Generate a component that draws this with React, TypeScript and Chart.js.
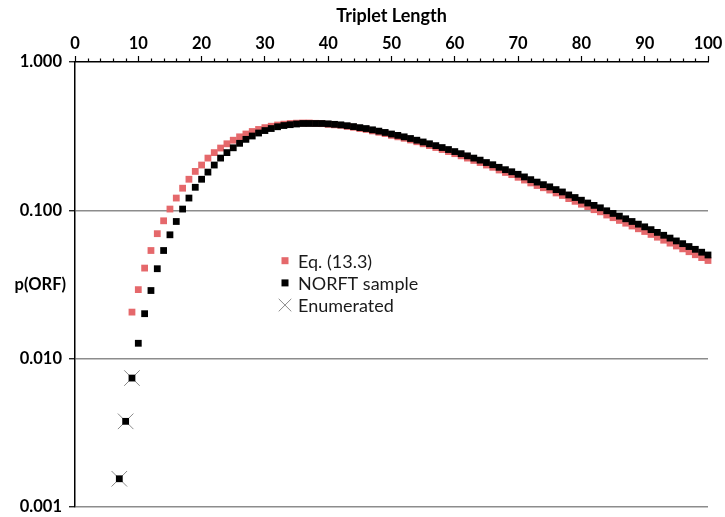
import React, { useEffect, useRef } from 'react';
import { Chart, registerables } from 'chart.js';

Chart.register(...registerables);

// ---- Data ----
const norftStart = 7;
const norftValues = [
  0.00155, 0.00378, 0.0074, 0.0127, 0.0201, 0.0288, 0.0404, 0.0536, 0.0684, 0.0841,
  0.102, 0.121, 0.143, 0.162, 0.181, 0.202, 0.225, 0.245,
  0.264, 0.283, 0.301, 0.317, 0.332, 0.345, 0.356, 0.366, 0.373, 0.378, 0.382, 0.385, 0.385, 0.385, 0.385, 0.383,
  0.380, 0.377, 0.372, 0.367, 0.361, 0.356, 0.349, 0.342, 0.335, 0.327, 0.320, 0.313, 0.305, 0.297, 0.289, 0.281, 0.273, 0.265, 0.257, 0.249,
  0.241, 0.233, 0.225, 0.218, 0.210, 0.203, 0.195, 0.188, 0.182, 0.175, 0.168, 0.161, 0.155, 0.149, 0.144, 0.138, 0.133, 0.127, 0.122, 0.117,
  0.112, 0.108, 0.104, 0.0993, 0.0953, 0.0914, 0.0877, 0.0841, 0.0807, 0.0774, 0.0741, 0.0710, 0.0679, 0.0650, 0.0622, 0.0596, 0.0570, 0.0546, 0.0522, 0.0500,
];

const eqStart = 9;
const eqValues = [
  0.0206, 0.0292, 0.0408, 0.0536, 0.0696, 0.0850, 0.102, 0.121, 0.141, 0.162, 0.183, 0.202, 0.225, 0.245,
  0.263, 0.281, 0.297, 0.313, 0.327, 0.340, 0.351, 0.361, 0.369, 0.376, 0.381, 0.385, 0.387, 0.388, 0.388, 0.386, 0.384, 0.380,
  0.377, 0.374, 0.368, 0.363, 0.356, 0.351, 0.343, 0.336, 0.329, 0.320, 0.313, 0.306, 0.298, 0.290, 0.281, 0.273, 0.265, 0.257, 0.249, 0.241,
  0.233, 0.225, 0.217, 0.210, 0.202, 0.195, 0.187, 0.180, 0.174, 0.167, 0.160, 0.153, 0.147, 0.142, 0.137, 0.131, 0.126, 0.120, 0.115, 0.110,
  0.106, 0.101, 0.0977, 0.0930, 0.0892, 0.0855, 0.0819, 0.0784, 0.0751, 0.0720, 0.0688, 0.0659, 0.0629, 0.0601, 0.0575, 0.0550, 0.0526, 0.0502, 0.0480, 0.0459,
];

const enumLengths = [7, 8, 9];
const enumValues = [0.00155, 0.00378, 0.0074];

const yTickValues = [0.001, 0.01, 0.1, 1];
const xMajorStep = 10;
const xMinorStep = 2;

const labels = ['Eq. (13.3)', 'NORFT sample', 'Enumerated'];

const RED = '#E5686B';
const GRID = '#8c8c8c';
const CROSS = '#8a8a8a';
const FONT = 'Lato';

const toPoints = (start: number, vals: number[]) => vals.map((v, i) => ({ x: start + i, y: v }));

const zeroPad = (s: any) => { s.paddingLeft = 0; s.paddingRight = 0; s.paddingTop = 0; s.paddingBottom = 0; };

const minorTicksPlugin = {
  id: 'minorTicks',
  afterDraw(chart: any) {
    const { ctx, chartArea } = chart;
    const xs = chart.scales.x;
    ctx.save();
    ctx.strokeStyle = '#000';
    ctx.lineWidth = 1.2;
    for (let v = xs.min; v <= xs.max; v += xMinorStep) {
      if (v % xMajorStep === 0) continue;
      const px = Math.round(xs.getPixelForValue(v)) + 0.5;
      ctx.beginPath();
      ctx.moveTo(px, chartArea.top);
      ctx.lineTo(px, chartArea.top - 3.5);
      ctx.stroke();
    }
    ctx.restore();
  },
};

const yTitlePlugin = {
  id: 'yTitle',
  afterDraw(chart: any) {
    const { ctx, chartArea } = chart;
    ctx.save();
    ctx.font = `bold 16.5px ${FONT}`;
    ctx.fillStyle = '#000';
    ctx.textAlign = 'right';
    ctx.textBaseline = 'middle';
    ctx.fillText('p(ORF)', chartArea.left - 9, (chartArea.top + chartArea.bottom) / 2);
    ctx.restore();
  },
};

const legendPlugin = {
  id: 'customLegend',
  afterDraw(chart: any) {
    const { ctx } = chart;
    const x0 = 285;
    const y0 = 260.7;
    const dy = 22.2;
    ctx.save();
    ctx.font = `18px ${FONT}`;
    ctx.textBaseline = 'middle';
    ctx.textAlign = 'left';
    labels.forEach((lab, i) => {
      const y = y0 + i * dy;
      if (i === 0 || i === 1) {
        ctx.fillStyle = i === 0 ? RED : '#000';
        ctx.fillRect(x0 - 3.5, y - 3.5, 7, 7);
      } else {
        ctx.strokeStyle = CROSS;
        ctx.lineWidth = 1;
        const r = 6.3;
        ctx.beginPath();
        ctx.moveTo(x0 - r, y - r);
        ctx.lineTo(x0 + r, y + r);
        ctx.moveTo(x0 + r, y - r);
        ctx.lineTo(x0 - r, y + r);
        ctx.stroke();
      }
      ctx.fillStyle = '#1a1a1a';
      ctx.fillText(lab, x0 + 13, y + 1);
    });
    ctx.restore();
  },
};

export default function App() {
  const ref = useRef<HTMLCanvasElement | null>(null);

  useEffect(() => {
    document.body.style.margin = '0';
    const canvas = ref.current;
    if (!canvas) return;
    const tickFont = { family: FONT, size: 16.5, weight: 'bold' as const };
    const chart = new Chart(canvas, {
      type: 'scatter',
      data: {
        datasets: [
          {
            label: labels[1],
            data: toPoints(norftStart, norftValues),
            pointStyle: 'rect',
            pointRadius: 4.8,
            pointHoverRadius: 4.8,
            backgroundColor: '#000',
            borderWidth: 0,
            order: 0,
            clip: false,
          },
          {
            label: labels[0],
            data: toPoints(eqStart, eqValues),
            pointStyle: 'rect',
            pointRadius: 4.8,
            pointHoverRadius: 4.8,
            backgroundColor: RED,
            borderWidth: 0,
            order: 1,
            clip: false,
          },
          {
            label: labels[2],
            data: enumLengths.map((x, i) => ({ x, y: enumValues[i] })),
            pointStyle: 'crossRot',
            pointRadius: 11,
            pointHoverRadius: 11,
            borderColor: CROSS,
            backgroundColor: 'rgba(0,0,0,0)',
            borderWidth: 1,
            order: 2,
            clip: false,
          },
        ] as any,
      },
      options: {
        responsive: false,
        animation: false,
        events: [],
        layout: { autoPadding: false, padding: { left: 0, right: 17, top: 0, bottom: 10 } },
        plugins: { legend: { display: false }, tooltip: { enabled: false } },
        scales: {
          x: {
            type: 'linear',
            position: 'top',
            min: 0,
            max: 100,
            ticks: { stepSize: xMajorStep, font: tickFont, color: '#000', padding: 2, maxRotation: 0, autoSkip: false },
            grid: { drawOnChartArea: false, drawTicks: true, tickLength: 6, tickColor: '#000', tickWidth: 1.2 },
            border: { display: true, color: '#000', width: 1.5 },
            title: { display: true, text: 'Triplet Length', font: { family: FONT, size: 18, weight: 'bold' }, color: '#000', padding: { top: 5, bottom: 0 } },
            afterFit: (s: any) => { s.height = 62; zeroPad(s); },
          },
          y: {
            type: 'logarithmic',
            min: 0.001,
            max: 1,
            afterBuildTicks: (s: any) => { s.ticks = yTickValues.map((v) => ({ value: v })); },
            ticks: { callback: (v: any) => Number(v).toFixed(3), font: tickFont, color: '#000', padding: 7, autoSkip: false },
            grid: {
              color: (c: any) => (c.tick && c.tick.value === 1 ? 'rgba(0,0,0,0)' : GRID),
              lineWidth: 1.5,
              tickColor: '#000',
              tickLength: 6,
              tickWidth: 1.2,
            },
            border: { display: true, color: '#000', width: 1.5 },
            afterFit: (s: any) => { s.width = 75; zeroPad(s); },
          },
        },
      } as any,
      plugins: [minorTicksPlugin, yTitlePlugin, legendPlugin],
    });
    return () => chart.destroy();
  }, []);

  return (
    <div style={{ width: 725, height: 517, background: '#fff' }}>
      <canvas ref={ref} width={725} height={517} style={{ display: 'block' }} />
    </div>
  );
}
